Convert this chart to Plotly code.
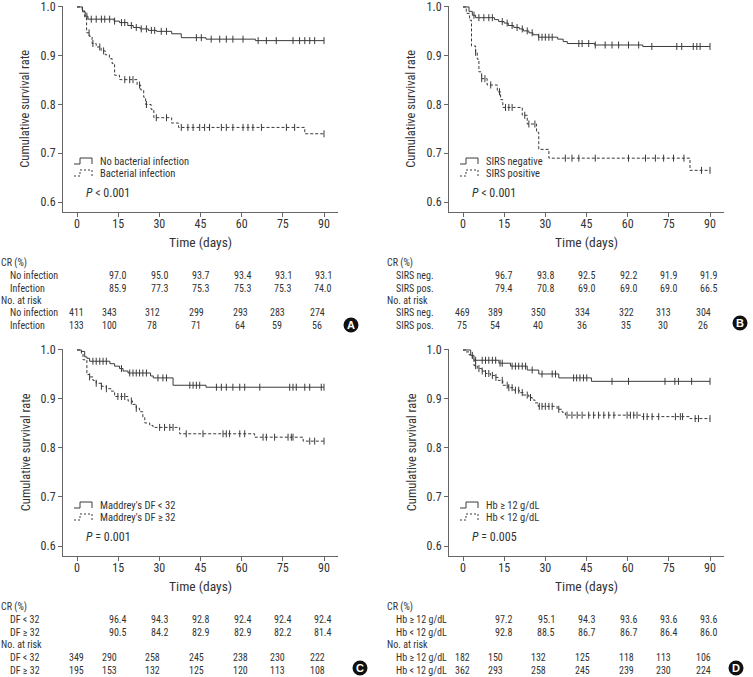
import plotly.graph_objects as go

W, H = 753, 677
FONT = "Liberation Sans Narrow, Arial Narrow, Roboto Condensed, Liberation Sans, Arial, sans-serif"
TXT = "#333333"
LINE = "#3a3a3a"
AX = "#666666"

# ---------------- data ----------------
# Panel A
a_no_t = [0, 2.0, 3.0, 4.0, 13.5, 15.5, 18.5, 20.5, 23.0, 26.0, 29.0, 34.5, 38.0, 47.0, 65.0]
a_no_s = [1.0, 0.990, 0.981, 0.975, 0.971, 0.968, 0.962, 0.958, 0.955, 0.952, 0.950, 0.945, 0.937, 0.934, 0.931]
a_no_c = [3.6, 5.2, 7.0, 8.9, 10.1, 11.9, 13.7, 16.2, 17.4, 19.8, 21.6, 23.4, 25.3, 27.1, 28.3, 30.7, 32.6,
          43.5, 45.3, 48.9, 52.0, 54.4, 56.8, 60.5, 66.0, 69.0, 72.6, 78.7, 81.1, 83.0, 84.8, 86.6, 90.0]
a_in_t = [0, 1.9, 2.8, 3.5, 4.5, 5.5, 7.0, 8.8, 10.3, 11.8, 12.8, 13.7, 15.5, 21.9, 23.2, 24.3, 25.0, 27.0, 28.0, 34.5, 37.0, 83.0]
a_in_s = [1.0, 0.992, 0.977, 0.947, 0.940, 0.925, 0.918, 0.910, 0.902, 0.894, 0.884, 0.860, 0.851, 0.840, 0.830,
          0.815, 0.800, 0.790, 0.773, 0.762, 0.753, 0.740]
a_in_c = [4.4, 5.8, 8.3, 9.7, 17.4, 19.2, 20.4, 22.8, 25.3, 28.9, 32.6, 38.0, 40.4, 42.3, 44.7, 46.5, 48.3,
          52.6, 54.4, 56.8, 60.5, 62.3, 64.1, 67.2, 76.3, 79.3, 90.0]
a_rows = ["No infection", "Infection"]
a_leg = ["No bacterial infection", "Bacterial infection"]
a_p = "<i>P</i> < 0.001"
a_cr = [[97.0, 95.0, 93.7, 93.4, 93.1, 93.1], [85.9, 77.3, 75.3, 75.3, 75.3, 74.0]]
a_risk = [[411, 343, 312, 299, 293, 283, 274], [133, 100, 78, 71, 64, 59, 56]]

# Panel B
b_ng_t = [0, 2.2, 3.4, 4.6, 11.5, 13.0, 15.0, 16.5, 18.5, 20.5, 22.0, 24.0, 25.5, 27.5, 34.5, 36.5, 38.0, 48.0, 65.5]
b_ng_s = [1.0, 0.991, 0.983, 0.978, 0.974, 0.970, 0.967, 0.962, 0.958, 0.955, 0.951, 0.947, 0.943, 0.938,
          0.934, 0.929, 0.925, 0.922, 0.919]
b_ng_c = [4.0, 5.8, 7.6, 9.4, 10.7, 14.3, 16.1, 17.9, 19.7, 21.6, 23.4, 25.2, 27.6, 28.8, 30.0, 31.3, 32.5,
          42.2, 43.4, 45.8, 48.2, 51.8, 54.3, 56.7, 60.3, 64.0, 68.8, 77.9, 79.7, 83.9, 85.2, 86.4, 90.0]
b_ps_t = [0, 1.2, 2.4, 3.1, 4.6, 5.2, 5.8, 6.8, 8.8, 12.5, 13.7, 14.5, 21.6, 23.4, 26.8, 27.6, 31.3, 82.7]
b_ps_s = [1.0, 0.987, 0.973, 0.920, 0.907, 0.893, 0.867, 0.853, 0.840, 0.826, 0.810, 0.794, 0.778, 0.760,
          0.743, 0.708, 0.690, 0.665]
b_ps_c = [4.6, 6.8, 8.0, 10.1, 13.3, 15.5, 16.7, 17.9, 22.5, 24.0, 26.2, 37.3, 39.7, 42.2, 48.2, 60.3,
          66.5, 70.1, 73.1, 76.7, 80.5, 86.9, 90.0]
b_rows = ["SIRS neg.", "SIRS pos."]
b_leg = ["SIRS negative", "SIRS positive"]
b_p = "<i>P</i> < 0.001"
b_cr = [[96.7, 93.8, 92.5, 92.2, 91.9, 91.9], [79.4, 70.8, 69.0, 69.0, 69.0, 66.5]]
b_risk = [[469, 389, 350, 334, 322, 313, 304], [75, 54, 40, 36, 35, 30, 26]]

# Panel C
c_lo_t = [0, 1.6, 2.8, 3.6, 4.6, 12.0, 13.7, 15.5, 16.8, 18.6, 26.8, 27.8, 35.0, 47.0]
c_lo_s = [1.0, 0.997, 0.986, 0.983, 0.977, 0.972, 0.967, 0.962, 0.957, 0.953, 0.947, 0.943, 0.928, 0.924]
c_lo_c = [5.8, 7.0, 8.3, 9.5, 10.7, 16.2, 19.2, 20.4, 21.6, 22.8, 24.0, 25.3, 29.5, 31.3, 32.6, 41.1, 42.3,
          43.5, 44.7, 50.8, 52.6, 54.4, 56.8, 59.3, 61.1, 66.6, 77.5, 78.7, 79.9, 83.0, 84.8, 89.0, 90.0]
c_hi_t = [0, 1.6, 2.2, 3.6, 4.6, 5.8, 7.0, 8.9, 10.7, 12.5, 13.7, 18.6, 20.2, 21.6, 22.8, 24.0, 24.7, 26.5,
          27.7, 37.4, 64.7, 82.4]
c_hi_s = [1.0, 0.992, 0.980, 0.950, 0.945, 0.938, 0.932, 0.926, 0.921, 0.916, 0.905, 0.896, 0.889, 0.881,
          0.874, 0.862, 0.851, 0.846, 0.842, 0.829, 0.822, 0.814]
c_hi_c = [4.6, 7.0, 8.9, 10.7, 14.9, 16.2, 17.4, 19.8, 21.6, 30.1, 31.9, 33.8, 35.0, 39.8, 45.9, 53.2, 54.4,
          55.6, 59.3, 61.1, 67.8, 69.0, 72.0, 76.9, 78.1, 78.7, 84.8, 86.6, 90.0]
c_rows = ["DF < 32", "DF ≥ 32"]
c_leg = ["Maddrey's DF < 32", "Maddrey's DF ≥ 32"]
c_p = "<i>P</i> = 0.001"
c_cr = [[96.4, 94.3, 92.8, 92.4, 92.4, 92.4], [90.5, 84.2, 82.9, 82.9, 82.2, 81.4]]
c_risk = [[349, 290, 258, 245, 238, 230, 222], [195, 153, 132, 125, 120, 113, 108]]

# Panel D
d_hi_t = [0, 2.8, 4.0, 13.1, 17.3, 23.4, 27.6, 34.9, 46.8]
d_hi_s = [1.0, 0.989, 0.979, 0.973, 0.967, 0.959, 0.951, 0.943, 0.936]
d_hi_c = [3.4, 4.6, 7.0, 8.2, 9.4, 10.7, 11.9, 13.5, 14.3, 17.9, 19.1, 20.3, 21.6, 22.8, 25.2, 28.8, 32.5,
          33.7, 40.3, 41.4, 42.6, 43.9, 45.1, 54.3, 60.3, 73.6, 77.2, 78.5, 83.3, 90.0]
d_lo_t = [0, 1.0, 2.2, 3.4, 4.0, 5.2, 6.8, 8.2, 10.0, 11.6, 12.8, 14.5, 16.5, 18.5, 20.5, 22.0, 24.0, 25.2,
          26.2, 27.4, 34.3, 36.1, 37.3, 65.2, 82.7]
d_lo_s = [1.0, 0.996, 0.990, 0.981, 0.968, 0.962, 0.957, 0.952, 0.948, 0.944, 0.938, 0.928, 0.923, 0.918,
          0.913, 0.908, 0.903, 0.898, 0.892, 0.885, 0.879, 0.873, 0.867, 0.864, 0.860]
d_lo_c = [4.6, 5.8, 7.0, 8.2, 9.4, 10.7, 12.0, 14.3, 16.1, 16.7, 17.9, 19.1, 20.3, 21.6, 23.4, 24.6, 27.8,
          28.8, 30.0, 31.3, 32.5, 34.9, 37.9, 39.7, 41.6, 43.4, 45.8, 47.6, 49.4, 51.3, 53.1, 55.0, 59.8,
          61.0, 62.2, 63.4, 65.8, 67.1, 68.9, 71.3, 77.4, 79.2, 80.0, 84.6, 85.8, 90.0]
d_rows = ["Hb ≥ 12 g/dL", "Hb < 12 g/dL"]
d_leg = ["Hb ≥ 12 g/dL", "Hb < 12 g/dL"]
d_p = "<i>P</i> = 0.005"
d_cr = [[97.2, 95.1, 94.3, 93.6, 93.6, 93.6], [92.8, 88.5, 86.7, 86.7, 86.4, 86.0]]
d_risk = [[182, 150, 132, 125, 118, 113, 106], [362, 293, 258, 245, 239, 230, 224]]

x_ticks = [0, 15, 30, 45, 60, 75, 90]
y_ticks = [0.6, 0.7, 0.8, 0.9, 1.0]
y_ticklabels = ["0.6", "0.7", "0.8", "0.9", "1.0"]
letters = ["A", "B", "C", "D"]

# ---------------- layout geometry (pixels) ----------------
panels = [
    dict(l=63, r=338, t=5.5, b=212, curves=[(a_no_t, a_no_s, a_no_c), (a_in_t, a_in_s, a_in_c)],
         rows=a_rows, leg=a_leg, p=a_p, cr=a_cr, risk=a_risk, circ=(351, 325)),
    dict(l=449, r=724, t=5.5, b=212, curves=[(b_ng_t, b_ng_s, b_ng_c), (b_ps_t, b_ps_s, b_ps_c)],
         rows=b_rows, leg=b_leg, p=b_p, cr=b_cr, risk=b_risk, circ=(740, 323)),
    dict(l=63, r=338, t=348.5, b=556, curves=[(c_lo_t, c_lo_s, c_lo_c), (c_hi_t, c_hi_s, c_hi_c)],
         rows=c_rows, leg=c_leg, p=c_p, cr=c_cr, risk=c_risk, circ=(360, 668)),
    dict(l=449, r=724, t=348.5, b=556, curves=[(d_hi_t, d_hi_s, d_hi_c), (d_lo_t, d_lo_s, d_lo_c)],
         rows=d_rows, leg=d_leg, p=d_p, cr=d_cr, risk=d_risk, circ=(736, 668)),
]
risk_dx = [13, 46, 89, 133, 177, 214, 254]
cr_dx = [55, 97, 138, 180, 220, 260]
row_dy = [51, 63.5, 76, 88.5, 101, 114]


def px(x):
    return x / W


def py(y):
    return 1 - y / H


def value_at(ts, ss, c):
    v = ss[0]
    for t, s in zip(ts, ss):
        if t <= c:
            v = s
    return v


def note(x, y, text, font, xanchor="center", **kw):
    return dict(x=px(x), y=py(y), text=text, showarrow=False, xref="paper", yref="paper",
                xanchor=xanchor, yanchor="middle", borderpad=0, font=font, **kw)


fig = go.Figure()
annotations = []
shapes = []
dashes = ["solid", "3px,2px"]

for i, p in enumerate(panels):
    n = "" if i == 0 else str(i + 1)
    xa, ya = "x" + n, "y" + n
    for k, (ts, ss, cs) in enumerate(p["curves"]):
        fig.add_trace(go.Scatter(
            x=list(ts) + [90], y=list(ss) + [ss[-1]], mode="lines", line_shape="hv",
            line=dict(color=LINE, width=1, dash=dashes[k]), xaxis=xa, yaxis=ya,
            showlegend=False, hoverinfo="skip"))
        fig.add_trace(go.Scatter(
            x=cs, y=[value_at(ts, ss, c) for c in cs], mode="markers",
            marker=dict(symbol="line-ns-open", size=5, color=LINE, line=dict(color=LINE, width=1)),
            xaxis=xa, yaxis=ya, showlegend=False, hoverinfo="skip"))
    axcommon = dict(showline=True, linecolor=AX, linewidth=1, ticks="outside", ticklen=4, tickcolor=AX,
                    showgrid=False, zeroline=False, automargin=False, ticklabeloverflow="allow",
                    tickfont=dict(family=FONT, size=12, color=TXT))
    fig.update_layout(**{
        "xaxis" + n: dict(domain=[px(p["l"]), px(p["r"])], range=[-5.1, 95.1], tickvals=x_ticks,
                          anchor=ya, ticklabelstandoff=-3, **axcommon),
        "yaxis" + n: dict(domain=[py(p["b"]), py(p["t"])], range=[0.5796, 1.003], tickvals=y_ticks,
                          ticktext=y_ticklabels, anchor=xa, **axcommon),
    })
    l, b = p["l"], p["b"]
    # axis titles
    annotations.append(note((l + p["r"]) / 2, b + 30, "Time (days)", dict(family=FONT, size=13.5, color=TXT)))
    annotations.append(note(l - 38, (p["t"] + b) / 2, "Cumulative survival rate",
                            dict(family=FONT, size=12.5, color=TXT), textangle=-90))
    # legend glyphs and text
    for k in range(2):
        yb = b - 48 + 12 * k
        yt = yb - 6
        path = (f"M {px(l + 11)},{py(yb)} L {px(l + 17)},{py(yb)} L {px(l + 17)},{py(yt)} "
                f"L {px(l + 29)},{py(yt)} L {px(l + 29)},{py(yb)}")
        shapes.append(dict(type="path", path=path, xref="paper", yref="paper",
                           line=dict(color=LINE, width=1, dash="solid" if k == 0 else "2px,2px")))
        annotations.append(note(l + 36, yb - 3, p["leg"][k], dict(family=FONT, size=10.5, color=TXT),
                                xanchor="left"))
    annotations.append(note(l + 22, b - 19, p["p"], dict(family=FONT, size=12, color=TXT), xanchor="left"))
    # tables
    tf = dict(family=FONT, size=10, color=TXT)
    for text, r in [("CR (%)", 0), ("No. at risk", 3)]:
        annotations.append(note(max(l - 63, 0), b + row_dy[r], text, tf, xanchor="left"))
    for k in range(2):
        for r in (1 + k, 4 + k):
            annotations.append(note(l - 54, b + row_dy[r], p["rows"][k], tf, xanchor="left"))
        for j, v in enumerate(p["cr"][k]):
            annotations.append(note(l + cr_dx[j], b + row_dy[1 + k], f"{v:.1f}", tf))
        for j, v in enumerate(p["risk"][k]):
            annotations.append(note(l + risk_dx[j], b + row_dy[4 + k], str(v), tf))
    cx, cy = p["circ"]
    shapes.append(dict(type="circle", xref="paper", yref="paper", x0=px(cx - 7.5), x1=px(cx + 7.5),
                       y0=py(cy + 7.5), y1=py(cy - 7.5), fillcolor="#111111", line=dict(width=0)))
    annotations.append(note(cx, cy, f"<b>{letters[i]}</b>",
                            dict(family="Liberation Sans, Arial, sans-serif", size=11, color="white")))

fig.update_layout(template="none", width=W, height=H, margin=dict(l=0, r=0, t=0, b=0, pad=0),
                  plot_bgcolor="white", paper_bgcolor="white", annotations=annotations, shapes=shapes,
                  showlegend=False)
fig.write_html("out.html", config={"displayModeBar": False},
               post_script="document.body.style.margin='0';")
